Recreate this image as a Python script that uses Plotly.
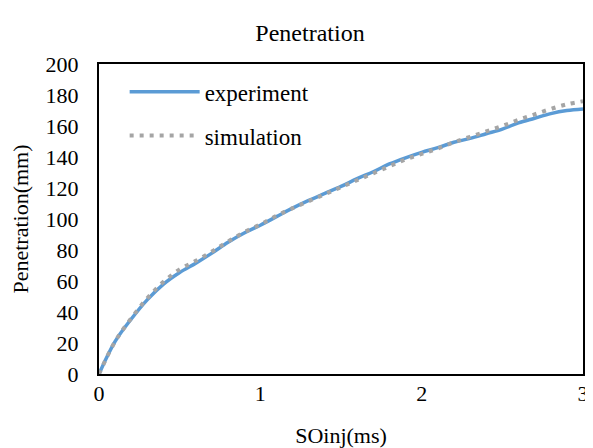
import plotly.graph_objects as go

x_vals = [0.0, 0.1, 0.2, 0.3, 0.4, 0.5, 0.6, 0.7, 0.8, 0.9, 1.0, 1.1, 1.2, 1.3, 1.4, 1.5,
          1.6, 1.7, 1.8, 1.9, 2.0, 2.1, 2.2, 2.3, 2.4, 2.5, 2.6, 2.7, 2.8, 2.9, 3.0]
experiment = [0, 21, 35.5, 48, 58, 65.5, 71.5, 78, 85, 91, 96, 101.5, 107, 112, 116.5, 121,
              126, 130.5, 135.5, 139.5, 143, 146, 149.5, 152, 155, 158, 162, 165, 168, 170, 171]
simulation = [0, 21, 36, 49, 59.5, 67.5, 73, 79, 85.5, 91.5, 96.5, 102, 107, 111.5, 116, 120.5,
              125, 129.5, 134, 138.5, 142, 145.5, 149.5, 153, 156.5, 160, 164, 167.5, 171, 174, 176]
x_ticks = [0, 1, 2, 3]
y_ticks = [0, 20, 40, 60, 80, 100, 120, 140, 160, 180, 200]

FONT = "Liberation Serif, Times New Roman, serif"

fig = go.Figure()
fig.add_trace(go.Scatter(x=x_vals, y=experiment, mode="lines", name="experiment",
                         legendgroup="a",
                         line=dict(color="#5B9BD5", width=3.5, shape="spline")))
fig.add_trace(go.Scatter(x=x_vals, y=simulation, mode="lines", name="simulation",
                         legendgroup="b",
                         line=dict(color="#A5A5A5", width=4, dash="4px,6px", shape="spline")))

# page body has an 8px margin, so the figure is sized 8px smaller on each side
fig.update_layout(
    width=585, height=440,
    margin=dict(l=91, r=4, t=56, b=74),
    paper_bgcolor="white", plot_bgcolor="white",
    font=dict(family=FONT, size=22, color="black"),
    title=dict(text="Penetration", x=302/585, xanchor="center", y=1-25/440, yanchor="middle",
               font=dict(family=FONT, size=24, color="black")),
    xaxis=dict(range=[0, 3], tickvals=x_ticks, showgrid=False, zeroline=False,
               showline=True, linecolor="black", linewidth=2, mirror=True,
               ticks="", ticklabelstandoff=-1, ticklabeloverflow="allow",
               title=dict(text="SOinj(ms)", standoff=22, font=dict(size=22))),
    yaxis=dict(range=[0, 200], tickvals=y_ticks, showgrid=False, zeroline=False,
               showline=True, linecolor="black", linewidth=2, mirror=True,
               ticks="", ticklabelstandoff=14,
               title=dict(text="Penetration(mm)", standoff=11, font=dict(size=22))),
    legend=dict(x=0.053, y=0.98, xanchor="left", yanchor="top", bgcolor="rgba(0,0,0,0)",
                font=dict(size=23), itemwidth=70, traceorder="grouped", tracegroupgap=11),
    showlegend=True,
)

fig.write_html("out.html")
